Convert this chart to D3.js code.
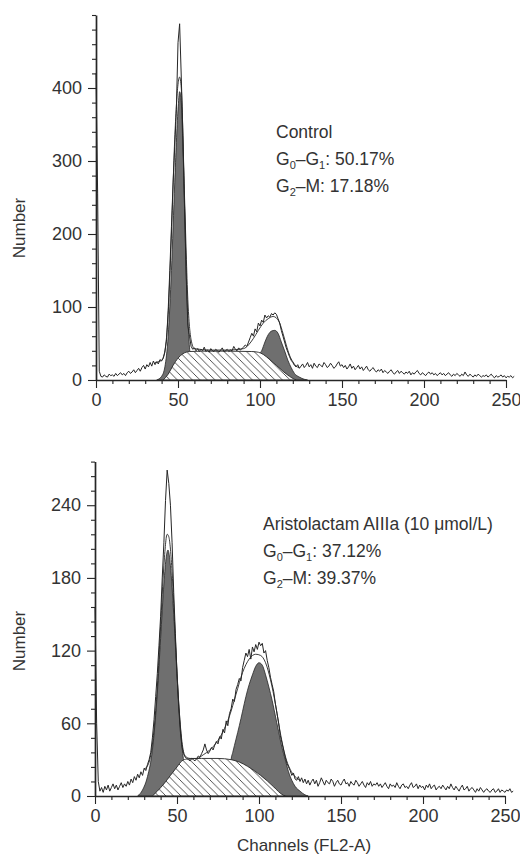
<!DOCTYPE html>
<html>
<head>
<meta charset="utf-8">
<script src="https://cdn.jsdelivr.net/npm/d3@7"></script>
<style>
  html, body { margin: 0; padding: 0; background: #fff; }
  svg { display: block; font-family: "Liberation Sans", Arial, sans-serif; }
</style>
</head>
<body>
<svg id="chart" width="520" height="858"></svg>
<script>
// Channels shared by both histograms
const xTicks = [0, 50, 100, 150, 200, 250];
const xMinorTicks = [10, 20, 30, 40, 60, 70, 80, 90, 110, 120, 130, 140, 160, 170, 180, 190, 210, 220, 230, 240];

// --- Control: raw counts per channel (0..255)
const controlRaw = [
  420, 256, 12, 5, 4, 7, 5, 4, 8, 6,
  7, 5, 9, 6, 8, 10, 7, 9, 6, 10,
  12, 9, 11, 14, 10, 13, 16, 12, 17, 20,
  15, 21, 18, 24, 19, 26, 21, 25, 22, 28,
  26, 30, 38, 55, 95, 150, 210, 270, 320, 370,
  462, 488, 415, 335, 235, 142, 75, 60, 46, 42,
  44, 40, 43, 39, 42, 40, 45, 39, 41, 38,
  43, 40, 39, 42, 40, 38, 41, 44, 39, 40,
  42, 39, 41, 40, 46, 42, 40, 44, 41, 43,
  45, 48, 46, 52, 58, 64, 60, 70, 66, 78,
  74, 82, 79, 89, 85, 88, 86, 91, 89, 92,
  90, 84, 78, 68, 60, 52, 44, 38, 32, 27,
  24, 20, 18, 21, 16,
  19, 22, 17, 20, 24, 18, 21, 16, 23, 19,
  17, 22, 20, 18, 24, 21, 17, 19, 23, 20,
  16, 18, 22, 25, 19, 21, 17, 20, 15, 18,
  22, 16, 19, 14, 17, 20, 15, 18, 13, 16,
  19, 14, 12, 15, 17, 13,
  11, 14, 12, 15, 10, 13, 11, 9, 12, 14,
  10, 8, 11, 13, 9, 12, 10, 8, 11, 9,
  12, 7, 10, 8, 11, 13, 9, 7, 10, 8,
  6, 9, 11, 8, 10, 7, 9, 6, 8, 10,
  7, 9, 6, 8, 10, 7, 5, 8, 6, 9,
  7, 5, 8, 6, 11, 7, 5, 8, 6, 4,
  7, 5, 8, 6, 4, 6, 5, 7, 4, 6,
  8, 5, 3, 6, 4, 5, 7, 4, 6, 3,
  5, 4, 6, 3, 5
];
// model fit, G0-G1 peak, S phase, G2-M peak: [channel, count]
const controlFit = [[36, 24], [40, 27], [42, 40], [44, 90], [46, 200], [48, 330], [50, 405], [51, 415], [52, 400], [54, 250], [56, 110], [58, 55], [60, 43], [70, 41], [80, 41], [90, 43], [93, 48], [96, 57], [99, 68], [102, 78], [105, 84], [108, 87], [110, 85], [112, 78], [114, 64], [116, 48], [118, 34], [120, 25], [122, 19], [124, 17]];
const controlG1 = [[37, 0], [40, 5], [42, 18], [44, 60], [46, 150], [48, 270], [50, 370], [51, 395], [52, 380], [53, 320], [54, 240], [55, 150], [56, 85], [57, 45], [58, 25], [60, 8], [62, 0]];
const controlS = [[41, 0], [44, 8], [47, 20], [50, 30], [53, 36], [57, 39], [65, 39.5], [80, 39.5], [95, 39], [99, 38], [102, 35], [106, 28], [110, 20], [114, 12], [118, 5], [121, 1], [122, 0]];
const controlG2 = [[98, 0], [100, 36], [101, 40], [103, 52], [105, 62], [107, 67], [109, 68], [111, 64], [113, 52], [115, 40], [117, 27], [119, 17], [121, 9], [124, 4], [127, 1], [129, 0]];
const controlYTicks = [0, 100, 200, 300, 400];
const controlText = ["Control", "G_0–G_1: 50.17%", "G_2–M: 17.18%"];

// --- Aristolactam AIIIa (10 µmol/L)
const treatedRaw = [
  156, 60, 12, 4, 7, 3, 8, 5, 9, 4,
  7, 10, 6, 9, 5, 8, 11, 7, 10, 8,
  12, 9, 14, 11, 16, 13, 18, 15, 20, 17,
  23, 21, 26, 30, 36, 48, 63, 82, 101, 124,
  148, 180, 209, 244, 269, 258, 240, 209, 168, 134,
  101, 74, 54, 41, 35, 32, 31, 30, 29, 31,
  30, 29, 31, 33, 32, 35, 38, 43, 38, 35,
  37, 40, 38, 42, 45, 43, 49, 47, 55, 52,
  62, 58, 68, 72, 80, 78, 88, 92, 97, 95,
  106, 112, 118, 115, 121, 113, 123, 119, 125, 121,
  127, 124, 126, 118, 120, 112, 106, 98, 92, 86,
  76, 68, 60, 50, 44, 38, 32, 27, 24, 21,
  17, 19, 14, 13, 16,
  12, 15, 11, 14, 10, 13, 9, 12, 14, 10,
  13, 8, 11, 15, 12, 9, 13, 11, 10, 14,
  12, 8, 11, 13, 10, 9, 12, 14, 10, 11,
  8, 12, 10, 9, 13, 11, 8, 10, 12, 9,
  7, 11, 9, 12, 8, 10,
  9, 11, 8, 10, 7, 9, 11, 8, 6, 10,
  8, 9, 7, 11, 8, 6, 9, 10, 7, 8,
  6, 9, 11, 7, 8, 10, 6, 9, 7, 8,
  5, 9, 7, 10, 6, 8, 9, 5, 7, 8,
  6, 9, 7, 5, 8, 6, 10, 7, 5, 8,
  6, 4, 7, 9, 5, 6, 8, 4, 6, 7,
  5, 3, 6, 4, 7, 5, 3, 5, 6, 4,
  3, 5, 6, 3, 4, 6, 3, 5, 4, 3,
  5, 4, 6, 3, 4
];
const treatedFit = [[30, 22], [33, 28], [36, 55], [38, 90], [40, 140], [42, 190], [44, 216], [45, 214], [47, 185], [49, 130], [51, 78], [53, 45], [55, 33], [58, 31], [62, 31], [66, 34], [70, 38], [74, 44], [78, 53], [82, 66], [86, 84], [90, 102], [94, 113], [98, 117], [101, 116], [104, 110], [107, 96], [110, 76], [113, 52], [116, 33], [119, 22], [122, 16], [125, 13]];
const treatedG1 = [[26, 0], [29, 5], [32, 16], [35, 38], [38, 85], [40, 130], [42, 175], [43.5, 198], [44.5, 203], [46, 190], [48, 150], [50, 100], [52, 58], [53.5, 35], [55, 22], [57, 10], [60, 0]];
const treatedS = [[35, 0], [38, 4], [42, 10], [46, 17], [50, 24], [53, 29], [56, 30.5], [65, 31], [75, 31], [83, 30], [88, 28], [93, 24.5], [97, 21], [101, 17], [105, 12.5], [109, 7.5], [112, 3.5], [115, 0.5], [116, 0]];
const treatedG2 = [[82, 0], [83, 30], [84, 36], [86, 47], [88, 58], [90, 70], [92, 82], [94, 92], [96, 100], [98, 107], [100, 110], [102, 108], [104, 100], [106, 90], [108, 79], [110, 66], [112, 53], [114, 40], [116, 30], [118, 20], [120, 13], [122, 8], [125, 4], [128, 1], [130, 0]];
const treatedYTicks = [0, 60, 120, 180, 240];
const treatedText = ["Aristolactam AIIIa (10 μmol/L)", "G_0–G_1: 37.12%", "G_2–M: 39.37%"];

const ink = '#262626';
const textInk = '#333';
const grayFill = '#6f6f6f';

const svg = d3.select('#chart');

// diagonal hatching for S phase
svg.append('defs').append('pattern')
    .attr('id', 'hatch')
    .attr('patternUnits', 'userSpaceOnUse')
    .attr('width', 7.5)
    .attr('height', 7.5)
  .append('path')
    .attr('d', 'M-1,-1 L8.5,8.5 M-1,6.5 L1,8.5 M6.5,-1 L8.5,1')
    .attr('stroke', ink)
    .attr('stroke-width', 0.8);

function drawPanel(p) {
    const x = d3.scaleLinear().domain([0, 250]).range([p.left, p.right]);
    const y = d3.scaleLinear().domain([0, p.yMax]).range([p.bottom, p.top]);
    const g = svg.append('g');

    const area = d3.area()
        .x(d => x(d[0]))
        .y0(y(0))
        .y1(d => y(d[1]))
        .curve(d3.curveMonotoneX);

    // gray peaks
    [p.g1, p.g2].forEach(pk => {
        g.append('path').datum(pk)
            .attr('d', area)
            .attr('fill', grayFill)
            .attr('stroke', ink)
            .attr('stroke-width', 0.8);
    });

    // S phase: white under hatch
    g.append('path').datum(p.s).attr('d', area).attr('fill', '#fff');
    g.append('path').datum(p.s)
        .attr('d', area)
        .attr('fill', 'url(#hatch)')
        .attr('stroke', ink)
        .attr('stroke-width', 0.9);

    // model fit line
    g.append('path').datum(p.fit)
        .attr('d', d3.line().x(d => x(d[0])).y(d => y(d[1])).curve(d3.curveMonotoneX))
        .attr('fill', 'none')
        .attr('stroke', ink)
        .attr('stroke-width', 0.9);

    // raw histogram
    g.append('path').datum(p.raw.map((v, i) => [i, v]))
        .attr('d', d3.line().x(d => x(d[0])).y(d => y(d[1])))
        .attr('fill', 'none')
        .attr('stroke', ink)
        .attr('stroke-width', 1);

    // axes
    const yMinor = d3.range(0, p.yMax + 0.1, p.yMinorStep).filter(v => !p.yTicks.includes(v));
    g.append('g')
        .attr('transform', `translate(${p.left},0)`)
        .call(d3.axisLeft(y).tickValues(yMinor).tickSize(4).tickFormat(''))
        .call(a => a.select('.domain').remove());
    g.append('g')
        .attr('transform', `translate(${p.left},0)`)
        .call(d3.axisLeft(y).tickValues(p.yTicks).tickSize(8).tickSizeOuter(0).tickPadding(6));

    g.append('g')
        .attr('transform', `translate(0,${p.bottom})`)
        .call(d3.axisBottom(x).tickValues(xMinorTicks).tickSize(4).tickFormat(''))
        .call(a => a.select('.domain').remove());
    g.append('g')
        .attr('transform', `translate(0,${p.bottom})`)
        .call(d3.axisBottom(x).tickValues(xTicks).tickSize(8).tickSizeOuter(0).tickPadding(5));

    g.selectAll('.domain').attr('stroke', ink).attr('stroke-width', 1.7);
    g.selectAll('.tick line').attr('stroke', ink).attr('stroke-width', 1.1);
    g.selectAll('.tick text')
        .attr('fill', textInk)
        .style('font-size', '18px')
        .style('font-family', '"Liberation Sans", Arial, sans-serif');

    // y title
    g.append('text')
        .attr('transform', `translate(${p.titleX},${p.titleY}) rotate(-90)`)
        .attr('text-anchor', 'middle')
        .attr('fill', textInk)
        .style('font-size', '17px')
        .text('Number');

    // annotation with subscripts
    p.text.forEach((line, i) => {
        const t = g.append('text')
            .attr('x', p.textX)
            .attr('y', p.textY + i * 27)
            .attr('fill', textInk)
            .style('font-size', '17.5px');
        line.split(/_(\d)/).forEach((part, j) => {
            if (!part) return;
            if (j % 2 === 1) {
                t.append('tspan').attr('baseline-shift', '-4').style('font-size', '11px').text(part);
            } else {
                t.append('tspan').text(part);
            }
        });
    });
}

drawPanel({
    raw: controlRaw, fit: controlFit, g1: controlG1, s: controlS, g2: controlG2,
    yTicks: controlYTicks, yMinorStep: 20, yMax: 500, text: controlText,
    left: 96, right: 506, top: 15, bottom: 380,
    titleX: 25, titleY: 228, textX: 276, textY: 138
});

drawPanel({
    raw: treatedRaw, fit: treatedFit, g1: treatedG1, s: treatedS, g2: treatedG2,
    yTicks: treatedYTicks, yMinorStep: 12, yMax: 276, text: treatedText,
    left: 95, right: 505, top: 461.6, bottom: 796,
    titleX: 25, titleY: 641, textX: 263, textY: 530
});

svg.append('text')
    .attr('x', 304)
    .attr('y', 851)
    .attr('text-anchor', 'middle')
    .attr('fill', textInk)
    .style('font-size', '17px')
    .text('Channels (FL2-A)');
</script>
</body>
</html>
